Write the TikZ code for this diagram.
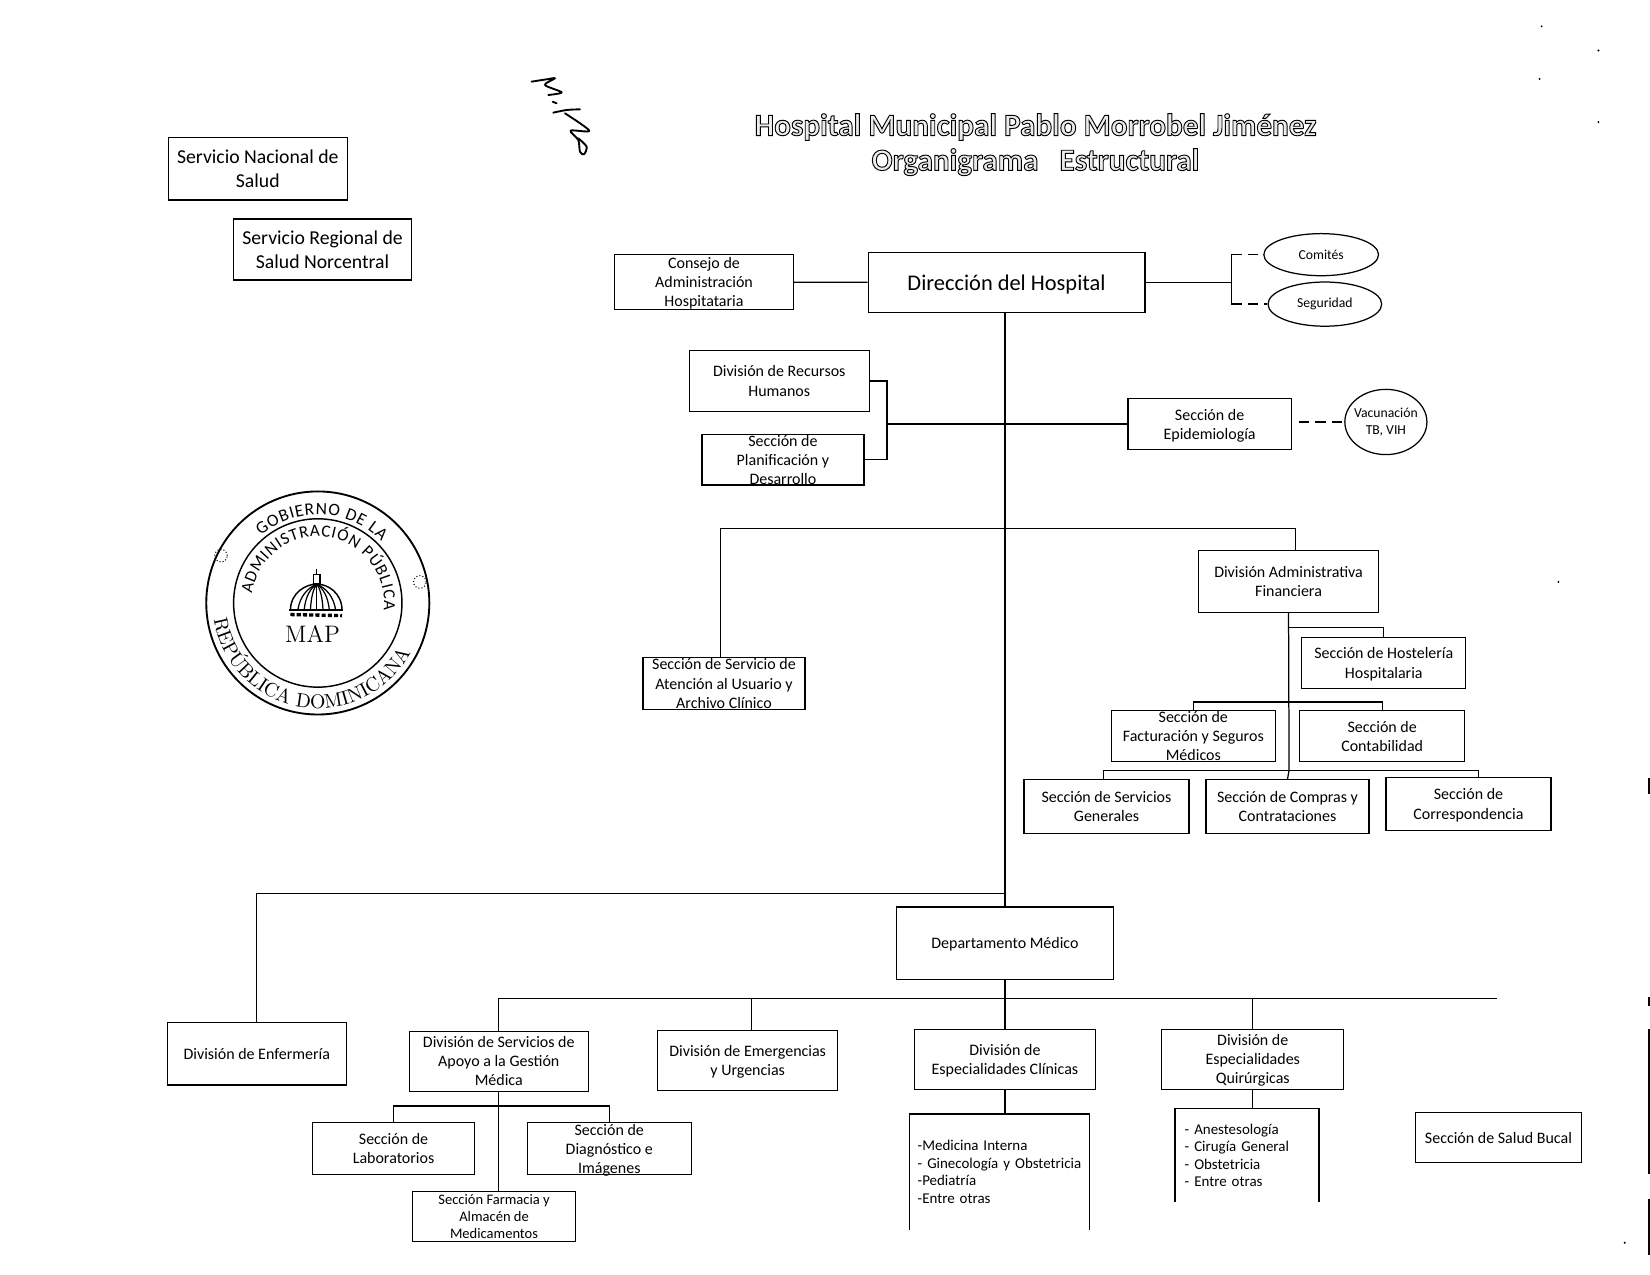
\documentclass[tikz,border=0pt]{standalone}
\usepackage{fontspec}
\setmainfont{Carlito}
\usetikzlibrary{shapes, positioning, decorations.text}
\newcommand{\contorno}[1]{\special{pdf:code q 0.92 g 2 Tr 0.45 w}#1\special{pdf:code Q}}
\tikzset{tam/.style 2 args={minimum width=#1*0.507pt, minimum height=#2*0.507pt}}
\tikzstyle{caja} = [draw, rectangle, line width=0.6pt, align=center, inner xsep=1pt, inner ysep=0pt, text depth=0pt, font=\fontsize{7.7}{9.2}\selectfont]
\tikzstyle{apretada} = [inner ysep=-3pt]
\tikzstyle{grande} = [font=\fontsize{9.5}{11.7}\selectfont]
\tikzstyle{burbuja} = [draw, ellipse, line width=0.6pt, align=center, inner sep=0pt, font=\fontsize{6.6}{8.2}\selectfont]
\tikzstyle{lista} = [rectangle, align=left, inner sep=0pt, font=\fontsize{7.2}{8.45}\selectfont]
\tikzstyle{linea} = [line width=0.6pt]
\tikzstyle{guion} = [line width=0.6pt, dash pattern=on 5pt off 3pt]
\tikzstyle{titulo} = [align=center, font=\fontsize{15}{16.8}\selectfont\bfseries]
\tikzstyle{firma} = [line width=0.9pt, line cap=round, line join=round]

\begin{document}
\begin{tikzpicture}[x=0.507pt, y=-0.507pt]
	\useasboundingbox (0,0) rectangle (1568,1211.2);
	\node[titulo] (titulo) at (984,137.5) {\contorno{Hospital Municipal Pablo Morrobel Jiménez}\\\contorno{Organigrama\ \ \ Estructural}};
	\node[caja, grande, tam={170}{59}] (nacional) at (245,160.5) {Servicio Nacional de\\Salud};
	\node[caja, grande, tam={169}{58}] (regional) at (306.5,237) {Servicio Regional de\\Salud Norcentral};
	\node[caja, apretada, tam={170}{52}] (consejo) at (669,268) {Consejo de\\Administración\\Hospitataria};
	\node[caja, tam={263}{57}, font=\fontsize{10.8}{12}\selectfont] (direccion) at (956.5,268.5) {Dirección del Hospital};
	\node[burbuja, tam={109}{40}] (comites) at (1255.5,242) {Comités};
	\node[burbuja, tam={108}{42}] (seguridad) at (1259,289) {Seguridad};
	\node[caja, tam={171}{58}] (recursos) at (740.5,362) {División de Recursos\\Humanos};
	\node[caja, apretada, tam={154}{48}] (planif) at (744,437) {Sección de\\Planificación y\\Desarrollo};
	\node[caja, tam={155}{48}] (epid) at (1149.5,403) {Sección de\\Epidemiología};
	\node[burbuja, inner sep=-3pt, tam={78}{62}] (vacuna) at (1317,401) {Vacunación\\TB, VIH};
	\node[caja, apretada, tam={154}{49}] (atencion) at (688,649.5) {Sección de Servicio de\\Atención al Usuario y\\Archivo Clínico};
	\node[caja, tam={171}{59}] (adm) at (1224.5,552.5) {División Administrativa\\Financiera};
	\node[caja, tam={156}{48}] (host) at (1315,630) {Sección de Hostelería\\Hospitalaria};
	\node[caja, apretada, tam={156}{49}] (fact) at (1134,699.5) {Sección de\\Facturación y Seguros\\Médicos};
	\node[caja, tam={157}{49}] (cont) at (1313.5,699.5) {Sección de\\Contabilidad};
	\node[caja, tam={157}{51}] (servg) at (1051.5,766.5) {Sección de Servicios\\Generales};
	\node[caja, tam={155}{51}] (compras) at (1223.5,766.5) {Sección de Compras y\\Contrataciones};
	\node[caja, tam={157}{50}] (corresp) at (1395.5,764) {Sección de\\Correspondencia};
	\node[caja, tam={206}{69}] (depto) at (955,896.5) {Departamento Médico};
	\node[caja, tam={170}{59}] (enf) at (244,1001.5) {División de Enfermería};
	\node[caja, tam={170}{57}] (apoyo) at (474,1008.5) {División de Servicios de\\Apoyo a la Gestión\\Médica};
	\node[caja, tam={171}{57}] (emerg) at (710.5,1007.5) {División de Emergencias\\y Urgencias};
	\node[caja, tam={172}{57}] (clin) at (955,1006.5) {División de\\Especialidades Clínicas};
	\node[caja, tam={173}{57}] (quir) at (1190.5,1006.5) {División de\\Especialidades\\Quirúrgicas};
	\node[caja, tam={154}{49}] (lab) at (374,1091.5) {Sección de\\Laboratorios};
	\node[caja, apretada, tam={156}{49}] (diag) at (579,1091.5) {Sección de\\Diagnóstico e\\Imágenes};
	\node[caja, apretada, tam={155}{48}, font=\fontsize{7}{8.3}\selectfont] (farm) at (469.5,1156) {Sección Farmacia y\\Almacén de\\Medicamentos};
	\node[caja, tam={158}{48}] (bucal) at (1424,1081) {Sección de Salud Bucal};
	\node[lista, tam={170}{109}, text width=79pt] (listaC) at (950,1113.5) {-Medicina Interna\\- Ginecología y Obstetricia\\-Pediatría\\-Entre otras};
	\node[lista, tam={136}{88}, text width=60pt] (listaQ) at (1185,1098) {- Anestesología\\- Cirugía General\\- Obstetricia\\- Entre otras};

	\coordinate (llave) at (1170,268.5);
	\coordinate (llaveA) at (1170,242);
	\coordinate (llaveB) at (1170,289);
	\coordinate (rrhh) at (843,403);
	\coordinate (guionV) at (1234,401);
	\coordinate (barraA) at (955,502);
	\coordinate (barraB) at (955,849);
	\coordinate (barraC) at (955,949);
	\coordinate (barraFin) at (1423,949);
	\coordinate (barraApoyo) at (474,1051);
	\coordinate (barraH) at (1225,596);
	\coordinate (barraF) at (1225,667);
	\coordinate (barraS) at (1225,732);

	\draw[linea] (consejo) -- (direccion);
	\draw[linea] (direccion) -- (llave);
	\draw[linea] (llaveA) -- (llaveB);
	\draw[guion] (llaveA) -- (comites.west);
	\draw[guion] (llaveB) -- (seguridad.west);
	\draw[linea] (depto.north |- direccion.south) -- (depto.north);
	\draw[linea] (recursos.east) -| (rrhh) |- (planif.east);
	\draw[linea] (rrhh) -- (epid.west);
	\draw[guion] (guionV) -- (vacuna.west);
	\draw[linea] ([xshift=-1.5pt]atencion.north) |- (barraA) -| ([xshift=3.3pt]adm.north);
	\draw[linea] (adm.south) -- (barraS) -- (compras.north);
	\draw[linea] (barraH) -| (host.north);
	\draw[linea] (fact.north) |- (barraF) -| (cont.north);
	\draw[linea] ([xshift=-1.3pt]servg.north) |- (barraS) -| ([xshift=4.8pt]corresp.north);
	\draw[linea] (enf.north) |- (barraB);
	\draw[linea] (apoyo.north) |- (barraFin);
	\draw[linea] (depto.south) -- (clin.north);
	\draw[linea] ([xshift=1.8pt]emerg.north) -- ([xshift=1.8pt]emerg.north |- barraC);
	\draw[linea] (quir.north) -- (quir.north |- barraC);
	\draw[linea] (apoyo.south) -- (apoyo.south |- farm.north);
	\draw[linea] (lab.north) |- (barraApoyo) -| (diag.north);
	\draw[linea] (clin.south) -- (clin.south |- listaC.north);
	\draw[linea] (quir.south) -- (quir.south |- listaQ.north);
	\draw[linea] (listaC.south west) -- (listaC.north west) -- (listaC.north east) -- (listaC.south east);
	\draw[linea] (listaQ.south west) -- (listaQ.north west) -- (listaQ.north east) -- (listaQ.south east);

	\begin{scope}[shift={(302,573)}, x=0.507pt, y=0.507pt]
		\draw[line width=0.9pt] (0,0) circle (106);
		\draw[line width=0.7pt] (0,0) circle (80);
		\path[decorate, decoration={text along path, text align=fit to path, text={|\fontsize{8.4}{10}\selectfont|GOBIERNO DE LA}}] (130:84) arc[start angle=130, end angle=44, radius=84];
		\path[decorate, decoration={text along path, text align=fit to path, text={|\fontsize{8.2}{9}\selectfont|ADMINISTRACIÓN PÚBLICA}}] (172:63) arc[start angle=172, end angle=-6, radius=63];
		\path[decorate, decoration={text along path, text align=fit to path, text={|\fontfamily{lmr}\fontsize{9.5}{10}\selectfont|REPÚBLICA DOMINICANA}}] (189:100) arc[start angle=189, end angle=332, radius=100];
		\foreach \punto in {(-92,45), (97,20)}
			\draw[line width=0.5pt, densely dotted] \punto circle (6);
		\draw[line width=0.7pt] (-26,-7) .. controls (-26,10) and (-11,18) .. (-1,18) .. controls (9,18) and (23,10) .. (23,-7);
		\foreach \k in {-18,-12,-6,0,6,12,18}
			\draw[line width=0.6pt] (\k-1,-7) .. controls (\k*0.9-1,6) and (\k*0.5-1,14) .. (-1,18);
		\draw[line width=1pt] (-27,-7) -- (24,-7);
		\draw[line width=1.6pt, dash pattern=on 2pt off 1pt] (-26,-11) -- (23,-12);
		\draw[line width=0.7pt] (-4,18) rectangle (2,27);
		\draw[line width=0.7pt] (-1,27) -- (-1,32);
		\node[font=\fontfamily{lmr}\fontsize{11.5}{12}\selectfont] (sigla) at (-5,-29) {MAP};
	\end{scope}

	\begin{scope}[shift={(484.6,57)}, scale=0.3168]
		\draw[firma] plot[smooth] coordinates {(65,65) (110,58) (135,55) (105,75) (155,97) (115,105)};
		\draw[firma] (128,125) -- (140,130);
		\draw[firma] plot[smooth] coordinates {(130,158) (170,150) (210,148)};
		\draw[firma] plot[smooth] coordinates {(165,160) (238,212) (182,212) (205,240) (210,275) (222,283) (230,260) (205,235)};
	\end{scope}

	\foreach \x/\y in {1465/25, 1519/48, 1463/75, 1519/116, 1481/553, 1544/1181}
		\fill (\x,\y) circle (1);
	\foreach \y/\z in {739/755, 947/956, 978/1116, 1139/1193}
		\draw[line width=1pt] (1567,\y) -- (1567,\z);
\end{tikzpicture}
\end{document}
